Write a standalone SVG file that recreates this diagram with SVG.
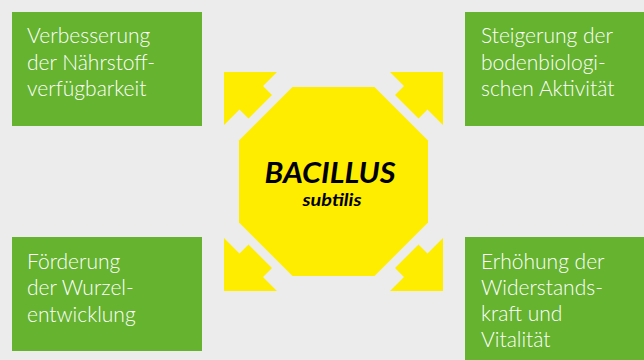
<svg xmlns="http://www.w3.org/2000/svg" width="644" height="360" viewBox="0 0 644 360">
  <defs>
    <style>
      .box { fill: #65b32e; }
      .lbl { font-family: Lato, "Open Sans", "Liberation Sans", sans-serif; font-size: 21px; font-weight: 300; fill: #ffffff; }
      .hub { fill: #ffed00; }
      .arr { fill: #ffed00; }
      .title { font-family: Lato, "Open Sans", "Liberation Sans", sans-serif; font-weight: bold; font-style: italic; fill: #000000; text-anchor: middle; }
    </style>
    <polygon id="arrowTL" points="-109.5,-109.5 -56.5,-109.5 -70.5,-95.5 -61.5,-86.5 -85,-63 -94,-72 -109.5,-56.5"/>
  </defs>
  <rect x="0" y="0" width="644" height="360" fill="#ececec"/>

  <g id="connectors">
    <use href="#arrowTL" class="arr" transform="translate(333.5,181.5)"/>
    <use href="#arrowTL" class="arr" transform="translate(333.5,181.5) scale(-1,1)"/>
    <use href="#arrowTL" class="arr" transform="translate(333.5,181.5) scale(1,-1)"/>
    <use href="#arrowTL" class="arr" transform="translate(333.5,181.5) scale(-1,-1)"/>
  </g>

  <g id="hub">
    <polygon class="hub" points="292.5,87 374.5,87 428,140.5 428,222.5 374.5,276 292.5,276 239,222.5 239,140.5"/>
    <text class="title" x="330" y="182.5" font-size="28" textLength="131" lengthAdjust="spacingAndGlyphs">BACILLUS</text>
    <text class="title" x="332" y="205.5" font-size="16.5" textLength="59" lengthAdjust="spacingAndGlyphs">subtilis</text>
  </g>

  <g id="node-tl">
    <rect class="box" x="12" y="12" width="190" height="114"/>
    <text class="lbl" x="27" y="43.3">Verbesserung</text>
    <text class="lbl" x="27" y="69.5">der Nährstoff-</text>
    <text class="lbl" x="27" y="95.7">verfügbarkeit</text>
  </g>

  <g id="node-tr">
    <rect class="box" x="465" y="12" width="190" height="114"/>
    <text class="lbl" x="481" y="43.3">Steigerung der</text>
    <text class="lbl" x="481" y="69.5">bodenbiologi-</text>
    <text class="lbl" x="481" y="95.7">schen Aktivität</text>
  </g>

  <g id="node-bl">
    <rect class="box" x="12" y="237" width="190" height="114"/>
    <text class="lbl" x="27" y="268.5">Förderung</text>
    <text class="lbl" x="27" y="295">der Wurzel-</text>
    <text class="lbl" x="27" y="321.5">entwicklung</text>
  </g>

  <g id="node-br">
    <rect class="box" x="465" y="237" width="190" height="130"/>
    <text class="lbl" x="481" y="268.5">Erhöhung der</text>
    <text class="lbl" x="481" y="294.7">Widerstands-</text>
    <text class="lbl" x="481" y="320.9">kraft und</text>
    <text class="lbl" x="481" y="347.1">Vitalität</text>
  </g>
</svg>
